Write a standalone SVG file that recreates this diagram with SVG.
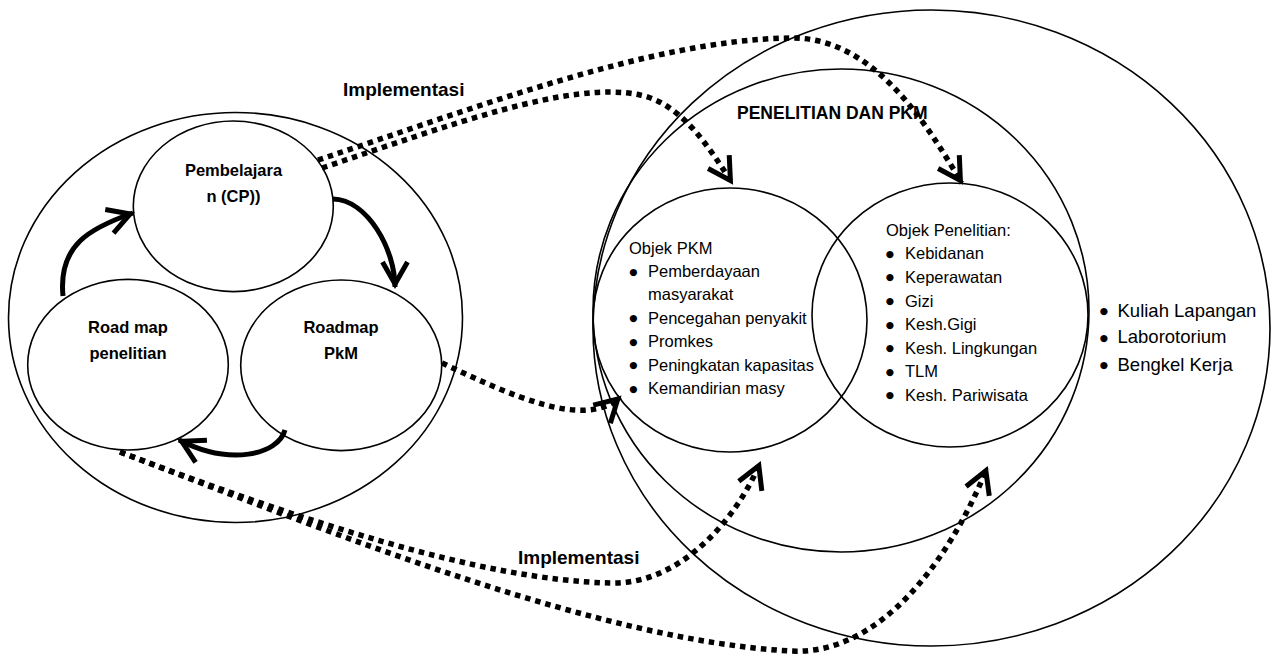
<svg xmlns="http://www.w3.org/2000/svg" width="1273" height="655" viewBox="0 0 1273 655">
<style>
.shape{fill:none;stroke:#000;stroke-width:1.6}
.thick{fill:none;stroke:#000;stroke-width:5;marker-end:url(#chev)}
.dot{fill:none;stroke:#000;stroke-width:5.5;stroke-dasharray:5.5 5;marker-end:url(#chev)}
text{fill:#000;font-family:"Liberation Sans",Arial,sans-serif}
.lbl{font-size:16.5px;font-weight:bold;text-anchor:middle}
.impl{font-size:19px;font-weight:bold}
.title{font-size:17.5px;font-weight:bold}
.li{font-size:16.5px}
.li2{font-size:18.5px}
.bul{font-family:"DejaVu Sans",sans-serif;font-size:9.5px;text-anchor:middle}
</style>
<defs>
<marker id="chev" markerUnits="userSpaceOnUse" markerWidth="40" markerHeight="40" viewBox="-30 -20 40 40" refX="0" refY="0" orient="auto" overflow="visible">
<path d="M -25 -12.5 L -3 0 L -25 12.5" fill="none" stroke="#000" stroke-width="5" stroke-dasharray="none"/>
</marker>
</defs>
<rect width="1273" height="655" fill="#fff"/>

<g id="outer-left">
<ellipse class="shape" cx="235.5" cy="317.5" rx="227" ry="205"/>
</g>
<g id="pembelajaran">
<ellipse class="shape" cx="233.3" cy="206.3" rx="100" ry="85.3"/>
<text class="lbl" x="233.5" y="176">Pembelajara</text>
<text class="lbl" x="233.5" y="201.5">n (CP))</text>
</g>
<g id="roadmap-penelitian">
<ellipse class="shape" cx="128" cy="364.7" rx="100.3" ry="85.3"/>
<text class="lbl" x="128" y="333.3">Road map</text>
<text class="lbl" x="128" y="359">penelitian</text>
</g>
<g id="roadmap-pkm">
<ellipse class="shape" cx="341.2" cy="365.3" rx="100.5" ry="85.3"/>
<text class="lbl" x="341" y="333.3">Roadmap</text>
<text class="lbl" x="341" y="359">PkM</text>
</g>

<g id="outer-right">
<ellipse class="shape" cx="931.5" cy="328" rx="338.5" ry="318"/>
<text class="bul" x="1104" y="314">●</text>
<text class="bul" x="1104" y="340.6">●</text>
<text class="bul" x="1104" y="367.8">●</text>
<text class="li2" x="1117.5" y="316.7">Kuliah Lapangan</text>
<text class="li2" x="1117.5" y="343.3">Laborotorium</text>
<text class="li2" x="1117.5" y="370.5">Bengkel Kerja</text>
</g>
<g id="penelitian-dan-pkm">
<ellipse class="shape" cx="841" cy="310.5" rx="248" ry="241.5"/>
<text class="title" x="737" y="119.3">PENELITIAN DAN PKM</text>
</g>
<g id="objek-pkm">
<ellipse class="shape" cx="730" cy="320" rx="137" ry="132"/>
<text class="li" x="629" y="254">Objek PKM</text>
<text class="bul" x="633.5" y="274.5">●</text>
<text class="li" x="648" y="277">Pemberdayaan</text>
<text class="li" x="648" y="300.3">masyarakat</text>
<text class="bul" x="633.5" y="321.3">●</text>
<text class="li" x="648" y="323.8">Pencegahan penyakit</text>
<text class="bul" x="633.5" y="344.8">●</text>
<text class="li" x="648" y="347.3">Promkes</text>
<text class="bul" x="633.5" y="368.2">●</text>
<text class="li" x="648" y="370.7">Peningkatan kapasitas</text>
<text class="bul" x="633.5" y="391.5">●</text>
<text class="li" x="648" y="394">Kemandirian masy</text>
</g>
<g id="objek-penelitian">
<ellipse class="shape" cx="950" cy="315" rx="138" ry="132"/>
<text class="li" x="886" y="235.7">Objek Penelitian:</text>
<text class="bul" x="890" y="256.8">●</text>
<text class="li" x="905" y="259.3">Kebidanan</text>
<text class="bul" x="890" y="280.4">●</text>
<text class="li" x="905" y="282.9">Keperawatan</text>
<text class="bul" x="890" y="304">●</text>
<text class="li" x="905" y="306.5">Gizi</text>
<text class="bul" x="890" y="327.5">●</text>
<text class="li" x="905" y="330">Kesh.Gigi</text>
<text class="bul" x="890" y="351.1">●</text>
<text class="li" x="905" y="353.6">Kesh. Lingkungan</text>
<text class="bul" x="890" y="374.7">●</text>
<text class="li" x="905" y="377.2">TLM</text>
<text class="bul" x="890" y="398.3">●</text>
<text class="li" x="905" y="400.8">Kesh. Pariwisata</text>
</g>

<g id="connectors">
<path class="thick" d="M 63 296 C 58 245, 90 228, 133 213"/>
<path class="thick" d="M 333 199 C 368 200, 395 250, 395 287"/>
<path class="thick" d="M 285 430 C 278 455, 230 466, 179 440"/>
<path class="dot" d="M 318 160 C 470 110, 650 40, 790 38 C 880 36, 935 140, 962 183"/>
<path class="dot" d="M 322 168 C 450 125, 570 80, 640 95 C 680 103, 708 145, 732 183"/>
<path class="dot" d="M 442 363 C 510 395, 585 430, 620 397"/>
<path class="dot" d="M 120 452 C 300 520, 480 580, 610 583 C 680 585, 736 520, 760 463"/>
<path class="dot" d="M 120 452 C 350 540, 600 640, 790 651 C 880 656, 950 560, 987 468"/>
<text class="impl" x="343" y="96">Implementasi</text>
<text class="impl" x="518" y="564">Implementasi</text>
</g>
</svg>
